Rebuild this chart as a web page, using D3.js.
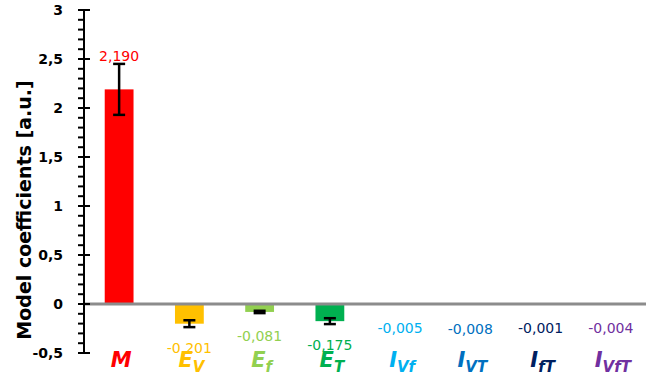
<!DOCTYPE html>
<html>
<head>
<meta charset="utf-8">
<script src="https://cdn.jsdelivr.net/npm/d3@7"></script>
<style>
  html, body { margin: 0; padding: 0; background: #fff; }
  svg { display: block; }
</style>
</head>
<body>
<svg id="chart" width="665" height="374"></svg>
<script>
// Model coefficients with their standard errors
const symbols    = ["M", "E", "E", "E", "I", "I", "I", "I"];
const subscripts = ["", "V", "f", "T", "Vf", "VT", "fT", "VfT"];
const values     = [2.190, -0.201, -0.081, -0.175, -0.005, -0.008, -0.001, -0.004];
const errors     = [0.26, 0.035, 0.012, 0.03, 0, 0, 0, 0];
const colors     = ["#ff0000", "#ffc000", "#92d050", "#00b050", "#00b0f0", "#0070c0", "#002060", "#7030a0"];
const yTicks     = [-0.5, 0, 0.5, 1, 1.5, 2, 2.5, 3];

const keys = d3.range(values.length);
const locale = d3.formatLocale({ decimal: ",", thousands: ".", grouping: [3], currency: ["", ""], minus: "-" });
const fmtVal = locale.format(".3f");
const fmtTick = v => locale.format("")(v);

const svg = d3.select("#chart");
const plotL = 84, plotR = 646, plotT = 10, plotB = 353;

const x = d3.scaleBand().domain(keys).range([plotL, plotR]).paddingInner(0.59).paddingOuter(0.295);
const y = d3.scaleLinear().domain([-0.5, 3]).range([plotB, plotT]);

// bars
svg.append("g").selectAll("rect").data(keys).join("rect")
  .attr("x", i => x(i))
  .attr("width", x.bandwidth())
  .attr("y", i => y(Math.max(0, values[i])))
  .attr("height", i => Math.abs(y(values[i]) - y(0)))
  .attr("fill", i => colors[i]);

// zero line
svg.append("line")
  .attr("x1", plotL).attr("x2", plotR)
  .attr("y1", y(0)).attr("y2", y(0))
  .attr("stroke", "#8c8c8c").attr("stroke-width", 3);

// error bars
const eg = svg.append("g").attr("stroke", "#000").attr("stroke-width", 2.5);
keys.filter(i => errors[i] > 0).forEach(i => {
  const cx = x(i) + x.bandwidth() / 2;
  const y1 = y(values[i] + errors[i]), y2 = y(values[i] - errors[i]);
  eg.append("line").attr("x1", cx).attr("x2", cx).attr("y1", y1).attr("y2", y2);
  eg.append("line").attr("x1", cx - 6).attr("x2", cx + 6).attr("y1", y1).attr("y2", y1);
  eg.append("line").attr("x1", cx - 6).attr("x2", cx + 6).attr("y1", y2).attr("y2", y2);
});

// y axis with minor ticks
const axis = svg.append("g");
axis.append("line").attr("x1", plotL).attr("x2", plotL).attr("y1", y(3)).attr("y2", y(-0.5))
  .attr("stroke", "#000").attr("stroke-width", 2);
const minor = d3.range(-5, 31).map(k => k / 10);
axis.selectAll("line.minor").data(minor).join("line").attr("class", "minor")
  .attr("x1", plotL - 6).attr("x2", plotL).attr("y1", d => y(d)).attr("y2", d => y(d))
  .attr("stroke", "#000").attr("stroke-width", 2);
axis.selectAll("line.major").data(yTicks).join("line").attr("class", "major")
  .attr("x1", plotL - 6).attr("x2", plotL + 6).attr("y1", d => y(d)).attr("y2", d => y(d))
  .attr("stroke", "#000").attr("stroke-width", 2);
axis.selectAll("text").data(yTicks).join("text")
  .attr("x", 63).attr("y", d => y(d)).attr("dy", "0.36em")
  .attr("text-anchor", "end")
  .attr("font-family", "DejaVu Sans").attr("font-weight", "bold").attr("font-size", 14)
  .attr("fill", "#000")
  .text(fmtTick);

// axis title
svg.append("text")
  .attr("transform", "translate(31,210) rotate(-90)")
  .attr("text-anchor", "middle")
  .attr("font-family", "DejaVu Sans").attr("font-weight", "bold").attr("font-size", 19)
  .attr("fill", "#000")
  .text("Model coefficients [a.u.]");

// value labels
svg.append("g").selectAll("text").data(keys).join("text")
  .attr("x", i => x(i) + x.bandwidth() / 2)
  .attr("y", i => values[i] >= 0 ? y(values[i]) - 28 : y(values[i]) + 29)
  .attr("text-anchor", "middle")
  .attr("font-family", "DejaVu Sans").attr("font-size", 14)
  .attr("fill", i => colors[i])
  .text(i => fmtVal(values[i]));

// category labels
const cat = svg.append("g").selectAll("text").data(keys).join("text")
  .attr("x", i => x(i) + x.bandwidth() / 2 + 2)
  .attr("y", 367)
  .attr("text-anchor", "middle")
  .attr("font-family", "DejaVu Sans").attr("font-weight", "bold").attr("font-style", "italic")
  .attr("font-size", 21)
  .attr("fill", i => colors[i]);
cat.append("tspan").text(i => symbols[i]);
cat.append("tspan").attr("font-size", 15).attr("dy", 5).text(i => subscripts[i]);
</script>
</body>
</html>
